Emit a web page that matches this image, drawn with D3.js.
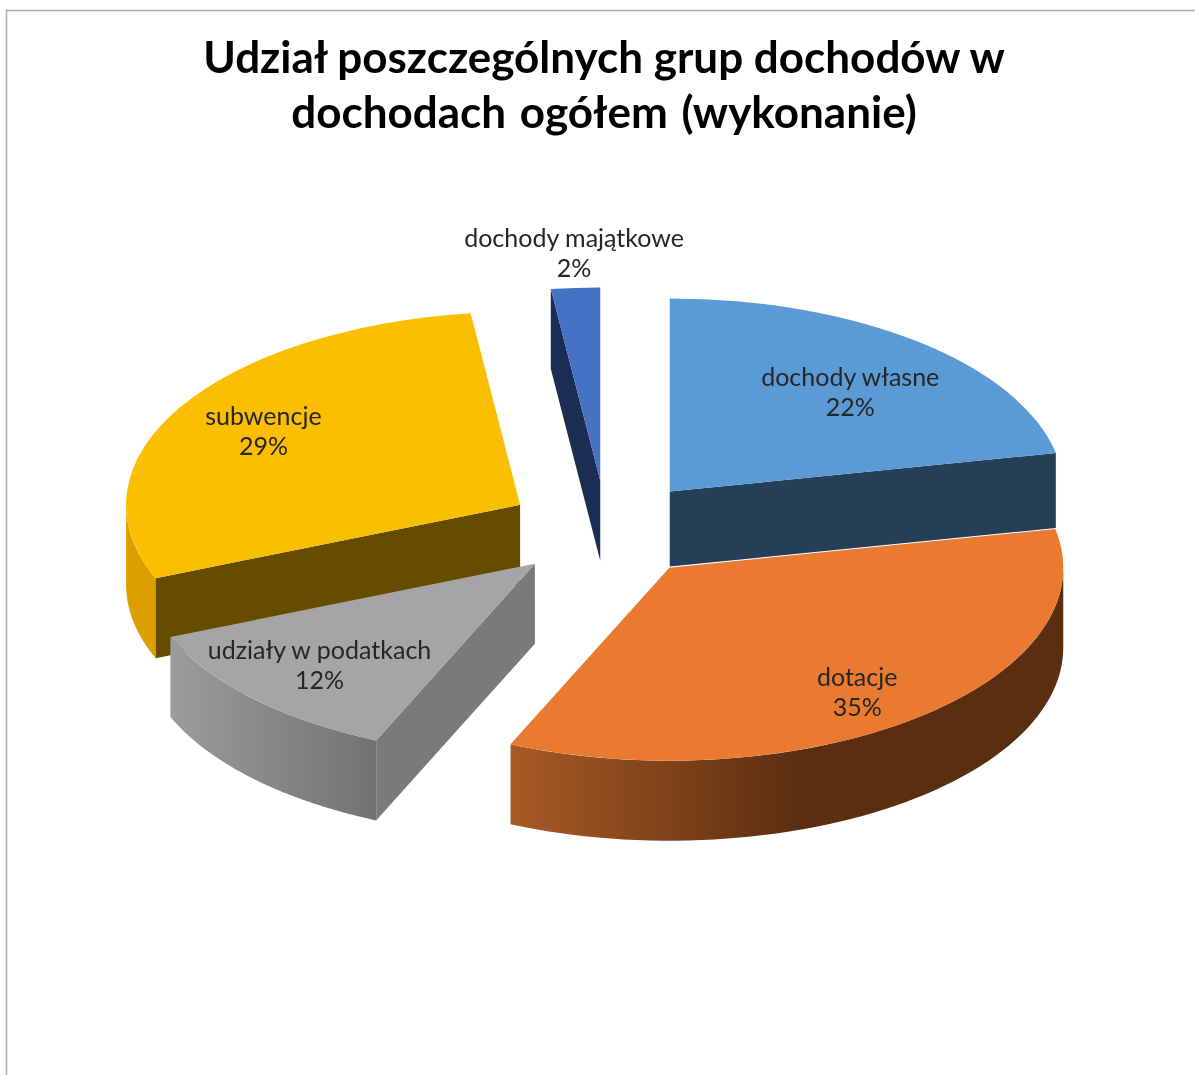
<!DOCTYPE html>
<html lang="pl">
<head>
<meta charset="utf-8">
<script src="https://cdn.jsdelivr.net/npm/d3@7"></script>
<style>
html, body { margin: 0; padding: 0; background: #fff; overflow: hidden; }
svg { display: block; filter: blur(0.5px); }
</style>
</head>
<body>
<svg id="chart" width="1195" height="1075"></svg>
<script>
// values, labels round them to whole percent
const categories = ['dochody własne', 'dotacje', 'udziały w podatkach', 'subwencje', 'dochody majątkowe']
const shares = [21.8, 34.8, 12.2, 29.2, 2.0]
const titleLines = ['Udział poszczególnych grup dochodów w', 'dochodach ogółem (wykonanie)']

const topColors = ['#5b9bd5', '#ea7a30', '#a5a5a5', '#fbbe00', '#4472c4']
const cutColors = ['#243f56', '#5c2e10', '#7a7a7a', '#664c00', '#1a2d52']
const rimLeft = ['#5b9bd5', '#a85a25', '#9c9c9c', '#dba000', '#4472c4']
const rimRight = ['#5b9bd5', '#5c2e10', '#727272', '#dba000', '#4472c4']
const rimStop = [1, 0.52, 1, 1, 1]
const sideDepth = [75, 80, 80, 80, 80]
const labelReach = [0.7, 0.78, 0.76, 0.76, 1.18]
const labelNudge = [[6, 4], [-5, 6], [-1, -2], [2, -1], [3, -1]]

const width = 1195
const height = 1075
const cx = 606.5
const cy = 529.5
const rx = 394
const tilt = 0.49
const explode = 100

const svg = d3.select('#chart')
const defs = svg.append('defs')

// frame of the original picture
svg.append('path')
	.attr('d', `M6.5,${height}V10.5H${width}`)
	.attr('fill', 'none')
	.attr('stroke', '#a9a9a9')
	.attr('stroke-width', 1.5)

svg.append('g')
	.selectAll('text')
	.data(titleLines)
	.join('text')
	.attr('x', 604)
	.attr('y', (d, i) => 73 + i * 55)
	.attr('text-anchor', 'middle')
	.attr('font-family', 'Lato, sans-serif')
	.attr('font-weight', 700)
	.attr('font-size', 44)
	.attr('word-spacing', (d, i) => i ? 3 : 0)
	.attr('fill', '#000')
	.text(d => d)

const pie = d3.pie().sort(null)
const arcs = pie(shares).map((d, i) => {
	const mid = (d.startAngle + d.endAngle) / 2
	return {
		...d,
		i,
		mid,
		x: cx + explode * Math.sin(mid),
		y: cy - explode * tilt * Math.cos(mid),
	}
})

// angle on the pie -> point on the tilted disc of a slice
const rimPoint = (a, d, reach = 1) => [
	d.x + rx * reach * Math.sin(a),
	d.y - rx * tilt * reach * Math.cos(a),
]

const topArc = d3.arc().innerRadius(0).outerRadius(rx)
const line = d3.line()

// a straight side shows only when the top surface is not below its edge
function sideVisible(a, d) {
	const p = rimPoint(a, d)
	const m = rimPoint(d.mid, d)
	const ex = p[0] - d.x
	const ey = p[1] - d.y
	const crossDown = ex
	const crossMid = ex * (m[1] - d.y) - ey * (m[0] - d.x)
	return crossDown * crossMid < 0
}

const slices = svg.append('g')
	.selectAll('g')
	.data(arcs.slice().sort((a, b) => a.y - b.y))
	.join('g')

slices.each(function (d) {
	const g = d3.select(this)
	const depth = sideDepth[d.i]

	// curved outer wall, only the front half of the disc
	const from = Math.max(d.startAngle, Math.PI / 2)
	const to = Math.min(d.endAngle, Math.PI * 1.5)
	if (to > from) {
		const id = 'rim' + d.i
		const grad = defs.append('linearGradient').attr('id', id)
		grad.append('stop').attr('offset', 0).attr('stop-color', rimLeft[d.i])
		grad.append('stop').attr('offset', rimStop[d.i]).attr('stop-color', rimRight[d.i])
		const upper = d3.range(0, 61).map(t => rimPoint(from + (to - from) * t / 60, d))
		const lower = upper.map(p => [p[0], p[1] + depth]).reverse()
		g.append('path')
			.attr('d', line(upper.concat(lower)) + 'Z')
			.attr('fill', `url(#${id})`)
	}

	// flat cut sides
	;[d.startAngle, d.endAngle].forEach(a => {
		if (!sideVisible(a, d)) return
		const p = rimPoint(a, d)
		g.append('path')
			.attr('d', line([[d.x, d.y], p, [p[0], p[1] + depth], [d.x, d.y + depth]]) + 'Z')
			.attr('fill', cutColors[d.i])
	})

	g.append('path')
		.attr('d', topArc(d))
		.attr('transform', `translate(${d.x},${d.y}) scale(1,${tilt})`)
		.attr('fill', topColors[d.i])
})

const labels = svg.append('g')
	.attr('font-family', 'Lato, sans-serif')
	.attr('font-size', 25)
	.attr('fill', '#262626')
	.attr('text-anchor', 'middle')
	.selectAll('text')
	.data(arcs)
	.join('text')
	.attr('transform', d => {
		const p = rimPoint(d.mid, d, labelReach[d.i])
		return `translate(${p[0] + labelNudge[d.i][0]},${p[1] + labelNudge[d.i][1]})`
	})

labels.append('tspan')
	.attr('x', 0)
	.attr('y', -5)
	.text(d => categories[d.i])

labels.append('tspan')
	.attr('x', 0)
	.attr('y', 25)
	.text(d => Math.round(d.value) + '%')
</script>
</body>
</html>
